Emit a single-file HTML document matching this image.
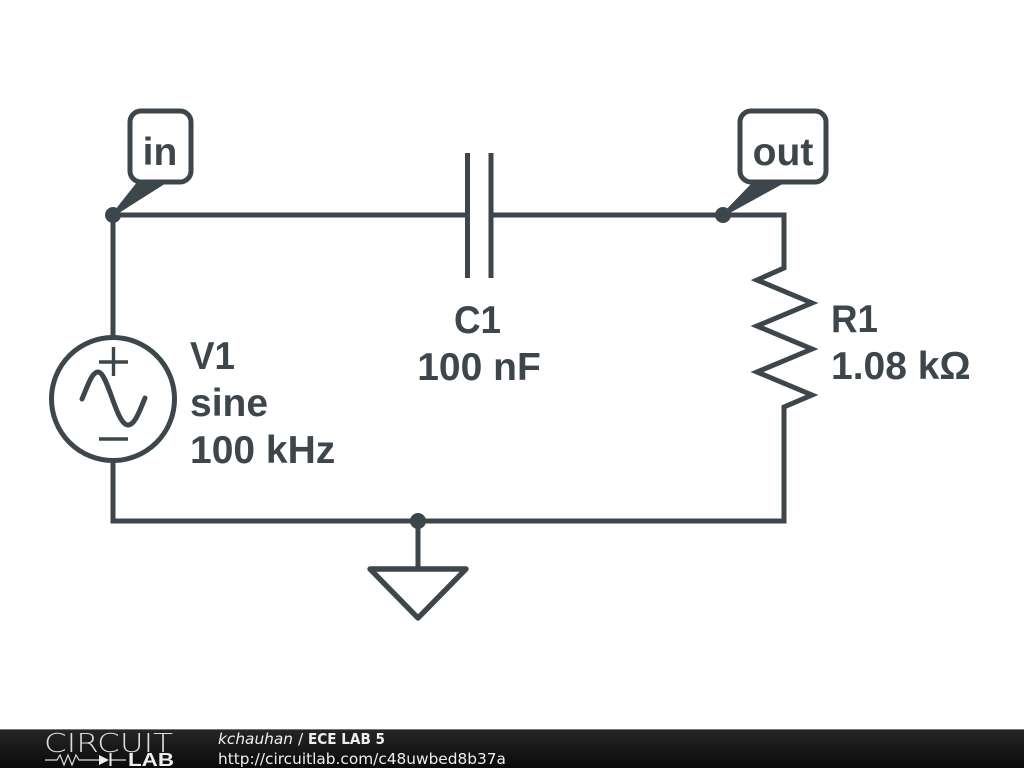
<!DOCTYPE html>
<html><head><meta charset="utf-8"><style>
html,body{margin:0;padding:0;background:#fff;width:1024px;height:768px;overflow:hidden}
svg{display:block}
.l{font-family:"Liberation Sans",sans-serif;font-weight:700;font-size:39px;fill:#3d464b}
.f{font-family:"DejaVu Sans",sans-serif;font-size:15.35px;fill:#eee}
</style></head><body>
<svg width="1024" height="768" viewBox="0 0 1024 768" xmlns="http://www.w3.org/2000/svg">
<defs><linearGradient id="g" x1="0" y1="0" x2="0" y2="1"><stop offset="0" stop-color="#262626"/><stop offset="1" stop-color="#0a0a0a"/></linearGradient></defs>
<g fill="none" stroke="#3d464b" stroke-width="5" stroke-linejoin="miter">
<path d="M113 215H467M491 215H784V268L757 280L812 303L757 326L812 349L757 372L812 395L784 407V521H113V215"/>
<path d="M467.500 153V278M491 153V278"/>
<circle cx="113" cy="399" r="61.500" fill="#fff"/>
<path d="M82 399C88 385 92 372 98 372C108 372 116 425 128 425C135 425 140 410 145 398" stroke-linecap="round" stroke-width="5"/>
<path d="M99 362H128M113.500 347V376M99 439H128" stroke-width="3.400"/>
<path d="M418 521V569"/>
<path d="M370 569H466L418 618Z" stroke-linejoin="round" stroke-width="5.400"/>
<rect x="130" y="111" width="61" height="71" rx="11" fill="#fff"/>
<rect x="740" y="111" width="86" height="71" rx="11" fill="#fff"/>
</g>
<g fill="#3d464b">
<circle cx="113" cy="215" r="8"/><circle cx="723" cy="215" r="8"/><circle cx="418" cy="521" r="8"/>
<path d="M113 215L139 182H165Z" stroke="#3d464b" stroke-width="3" stroke-linejoin="round"/>
<path d="M723 215L755 182H783Z" stroke="#3d464b" stroke-width="3" stroke-linejoin="round"/>
</g>
<text class="l" x="160" y="165" text-anchor="middle">in</text>
<text class="l" x="783" y="165" text-anchor="middle">out</text>
<text class="l" x="190" y="369" textLength="45" lengthAdjust="spacingAndGlyphs">V1</text>
<text class="l" x="190" y="416">sine</text>
<text class="l" x="190" y="463">100 kHz</text>
<text class="l" x="454" y="333" textLength="47" lengthAdjust="spacingAndGlyphs">C1</text>
<text class="l" x="479" y="380" text-anchor="middle">100 nF</text>
<text class="l" x="831" y="332" textLength="47" lengthAdjust="spacingAndGlyphs">R1</text>
<text class="l" x="831" y="379">1.08 kΩ</text>
<rect x="0" y="729" width="1024" height="39" fill="url(#g)"/>
<rect x="0" y="729" width="1024" height="1" fill="#777"/>
<text x="44" y="752" font-family="'DejaVu Sans',sans-serif" font-weight="200" font-size="26" fill="#ddd" textLength="129" lengthAdjust="spacingAndGlyphs">CIRCUIT</text>
<text x="128" y="766" font-family="'Liberation Sans',sans-serif" font-weight="700" font-size="18" fill="#eee" textLength="46" lengthAdjust="spacingAndGlyphs">LAB</text>
<path d="M45 760H57L60 755L64 765L68 755L72 765L76 755L79 760H99M110 760H126" fill="none" stroke="#ddd" stroke-width="1.200"/>
<path d="M99 755L109 760L99 765ZM109.500 753H111.500V766H109.500Z" fill="#eee"/>
<text class="f" x="218" y="744" font-style="italic">kchauhan</text>
<text class="f" x="298" y="744">/</text>
<text class="f" x="308" y="744" font-weight="700" textLength="77" lengthAdjust="spacingAndGlyphs">ECE LAB 5</text>
<text class="f" x="218" y="764">http://circuitlab.com/c48uwbed8b37a</text>
</svg>
</body></html>
